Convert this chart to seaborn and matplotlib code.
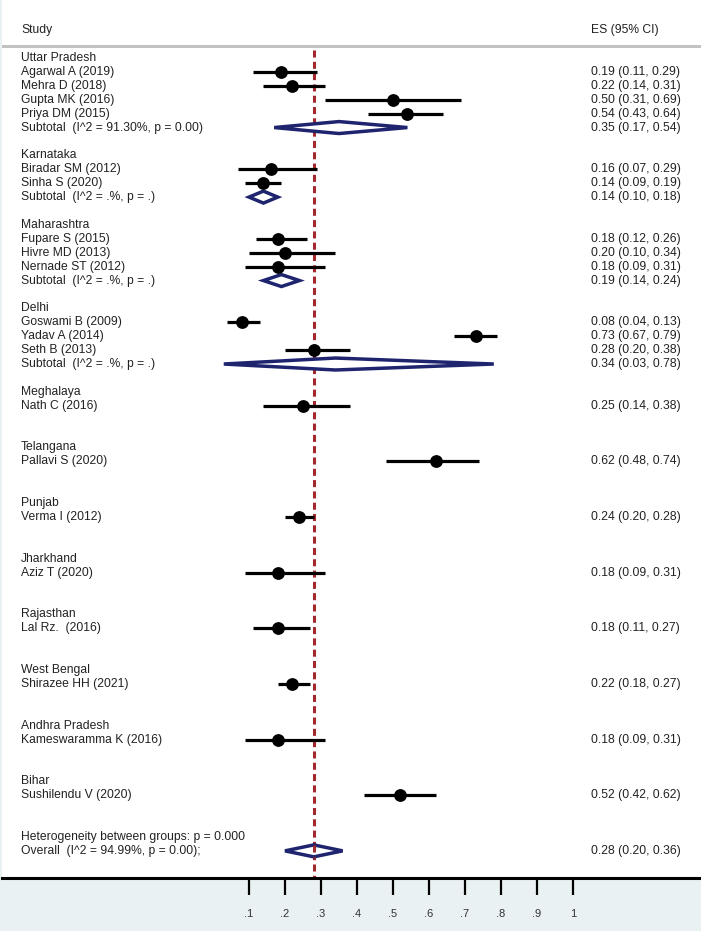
import matplotlib
matplotlib.use("Agg")
import matplotlib.pyplot as plt
import seaborn as sns
import pandas as pd

# --- Data ---
groups = ["Uttar Pradesh", "Karnataka", "Maharashtra", "Delhi", "Meghalaya",
          "Telangana", "Punjab", "Jharkhand", "Rajasthan", "West Bengal",
          "Andhra Pradesh", "Bihar"]

studies = ["Agarwal A (2019)", "Mehra D (2018)", "Gupta MK (2016)", "Priya DM (2015)",
           "Biradar SM (2012)", "Sinha S (2020)",
           "Fupare S (2015)", "Hivre MD (2013)", "Nernade ST (2012)",
           "Goswami B (2009)", "Yadav A (2014)", "Seth B (2013)",
           "Nath C (2016)", "Pallavi S (2020)", "Verma I (2012)", "Aziz T (2020)",
           "Lal Rz.  (2016)", "Shirazee HH (2021)", "Kameswaramma K (2016)",
           "Sushilendu V (2020)"]
study_group = [0, 0, 0, 0, 1, 1, 2, 2, 2, 3, 3, 3, 4, 5, 6, 7, 8, 9, 10, 11]
es = [0.19, 0.22, 0.50, 0.54, 0.16, 0.14, 0.18, 0.20, 0.18, 0.08, 0.73, 0.28,
      0.25, 0.62, 0.24, 0.18, 0.18, 0.22, 0.18, 0.52]
lo = [0.11, 0.14, 0.31, 0.43, 0.07, 0.09, 0.12, 0.10, 0.09, 0.04, 0.67, 0.20,
      0.14, 0.48, 0.20, 0.09, 0.11, 0.18, 0.09, 0.42]
hi = [0.29, 0.31, 0.69, 0.64, 0.29, 0.19, 0.26, 0.34, 0.31, 0.13, 0.79, 0.38,
      0.38, 0.74, 0.28, 0.31, 0.27, 0.27, 0.31, 0.62]

sub_label = ["Subtotal  (I^2 = 91.30%, p = 0.00)", "Subtotal  (I^2 = .%, p = .)",
             "Subtotal  (I^2 = .%, p = .)", "Subtotal  (I^2 = .%, p = .)"]
sub_es = [0.35, 0.14, 0.19, 0.34]
sub_lo = [0.17, 0.10, 0.14, 0.03]
sub_hi = [0.54, 0.18, 0.24, 0.78]

het_label = "Heterogeneity between groups: p = 0.000"
overall_label = "Overall  (I^2 = 94.99%, p = 0.00);"
overall_es, overall_lo, overall_hi = 0.28, 0.20, 0.36

xticks = [0.1, 0.2, 0.3, 0.4, 0.5, 0.6, 0.7, 0.8, 0.9, 1.0]
xtick_labels = [".1", ".2", ".3", ".4", ".5", ".6", ".7", ".8", ".9", "1"]

# --- Row layout (Stata metan style) ---
labels = []  # (row, text, es_text or None)
study_rows = []
sub_rows = []
r = 0
for g, name in enumerate(groups):
    labels.append((r, name, None))
    r += 1
    for i, sg in enumerate(study_group):
        if sg == g:
            study_rows.append(r)
            labels.append((r, studies[i], f"{es[i]:.2f} ({lo[i]:.2f}, {hi[i]:.2f})"))
            r += 1
    if g < len(sub_es):
        sub_rows.append(r)
        labels.append((r, sub_label[g],
                       f"{sub_es[g]:.2f} ({sub_lo[g]:.2f}, {sub_hi[g]:.2f})"))
    r += 2
het_row = r
overall_row = r + 1
labels.append((het_row, het_label, None))
labels.append((overall_row, overall_label,
               f"{overall_es:.2f} ({overall_lo:.2f}, {overall_hi:.2f})"))

df = pd.DataFrame({"study": studies, "es": es, "lo": lo, "hi": hi, "row": study_rows})

# --- Plot ---
sns.set_theme(style="white")
plt.rcParams["font.family"] = ["Liberation Sans", "DejaVu Sans"]

W, H = 701, 931
fig = plt.figure(figsize=(W / 100, H / 100), dpi=100, facecolor="#eaf1f3")
ax = fig.add_axes([2 / W, 53 / H, 699 / W, 878 / H], facecolor="white")

x0_px, unit_px = 213, 360.0   # pixel of ES=0, pixels per unit ES
row0_px, row_px = 58, 13.91
ax.set_xlim((2 - x0_px) / unit_px, (W - x0_px) / unit_px)
ax.set_ylim((878 - row0_px) / row_px, -row0_px / row_px)

def px_row(y):
    return (y - row0_px) / row_px

def px_x(x):
    return (x - x0_px) / unit_px

navy = "#1f246f"
red = "#a3282e"
txt = "#222222"
fs = 8.7

# reference line at overall ES
ax.vlines(overall_es, px_row(50), px_row(878), color=red, lw=2.2,
          linestyle=(0, (2.3, 1.4)), zorder=1)

# study CIs and points
ax.hlines(df["row"], df["lo"], df["hi"], color="black", lw=2.3, zorder=2)
sns.scatterplot(data=df, x="es", y="row", ax=ax, color="black", s=85,
                edgecolor="black", linewidth=0, zorder=3, legend=False)

# diamonds
def diamond(row, e, l, h):
    hh = 0.43
    ax.fill([l, e, h, e, l], [row, row - hh, row, row + hh, row],
            facecolor="white", edgecolor=navy, lw=2.5, zorder=2.5)

for k, row in enumerate(sub_rows):
    diamond(row, sub_es[k], sub_lo[k], sub_hi[k])
diamond(overall_row, overall_es, overall_lo, overall_hi)
ax.vlines(overall_es, overall_row - 0.45, overall_row + 0.45, color=red,
          lw=2.2, linestyle=(0, (2.3, 1.4)), zorder=3)

# header
ax.text(px_x(21), px_row(30), "Study", fontsize=fs, color=txt, va="center")
ax.text(px_x(591), px_row(30), "ES (95% CI)", fontsize=fs, color=txt, va="center")
ax.axhline(px_row(46), color="#c2c2c2", lw=2.2)

for row, name, est in labels:
    ax.text(px_x(21), row, name, fontsize=fs, color=txt, va="center")
    if est is not None:
        ax.text(px_x(591), row, est, fontsize=fs, color=txt, va="center")

# axes styling
for side in ["left", "right", "top"]:
    ax.spines[side].set_visible(False)
ax.spines["bottom"].set_color("black")
ax.spines["bottom"].set_linewidth(2.2)
ax.set_yticks([])
ax.set_xticks(xticks)
ax.set_xticklabels(xtick_labels)
ax.tick_params(axis="x", direction="out", length=12, width=1.6, pad=10,
               labelsize=8, labelcolor="#333333", color="black", bottom=True)
ax.set_xlabel("")
ax.set_ylabel("")

fig.savefig("out.png", dpi=100, facecolor=fig.get_facecolor())
